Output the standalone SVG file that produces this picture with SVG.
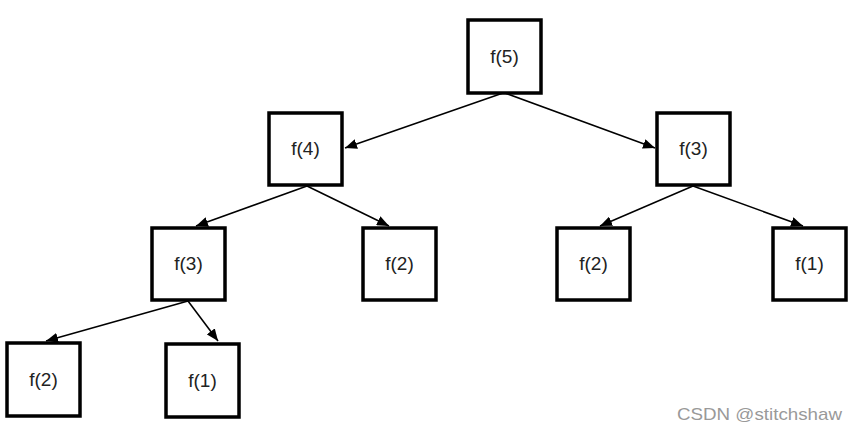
<svg xmlns="http://www.w3.org/2000/svg" width="856" height="430" viewBox="0 0 856 430">
<style>
.box{fill:#fff;stroke:#000;stroke-width:3.5}
.lbl{font-family:"Liberation Sans","Noto Sans",sans-serif;font-size:19px;fill:#222;text-anchor:middle}
.edge{stroke:#000;stroke-width:1.5;fill:none;marker-end:url(#ah)}
.wm{font-family:"Liberation Sans",Arial,sans-serif;font-size:17px;fill:#999;text-anchor:end}
</style>
<defs>
<marker id="ah" viewBox="0 0 12 10" refX="12" refY="5" markerWidth="12" markerHeight="10" markerUnits="userSpaceOnUse" orient="auto">
<path d="M0,0 L12,5 L0,10 z" fill="#000"/>
</marker>
</defs>
<rect width="856" height="430" fill="#fff"/>
<g id="connectors">
<line class="edge" x1="503" y1="93" x2="345" y2="148"/>
<line class="edge" x1="505" y1="93" x2="655" y2="148"/>
<line class="edge" x1="307" y1="186" x2="196" y2="226"/>
<line class="edge" x1="307" y1="186" x2="389" y2="226"/>
<line class="edge" x1="693" y1="186" x2="600" y2="226"/>
<line class="edge" x1="693" y1="186" x2="803" y2="226"/>
<line class="edge" x1="188" y1="301" x2="46" y2="341"/>
<line class="edge" x1="188" y1="301" x2="218" y2="341"/>
</g>
<g id="n5"><rect class="box" x="468" y="20" width="73" height="73"/><text class="lbl" x="504.5" y="63">f(5)</text></g>
<g id="n4"><rect class="box" x="269" y="113" width="73" height="72"/><text class="lbl" x="305.5" y="155">f(4)</text></g>
<g id="n3r"><rect class="box" x="657" y="113" width="73" height="72"/><text class="lbl" x="693.5" y="155">f(3)</text></g>
<g id="n3l"><rect class="box" x="152" y="228" width="73" height="72"/><text class="lbl" x="188.5" y="270">f(3)</text></g>
<g id="n2m"><rect class="box" x="363" y="228" width="73" height="72"/><text class="lbl" x="399.5" y="270">f(2)</text></g>
<g id="n2r"><rect class="box" x="557" y="228" width="73" height="72"/><text class="lbl" x="593.5" y="270">f(2)</text></g>
<g id="n1r"><rect class="box" x="773" y="228" width="73" height="72"/><text class="lbl" x="809.5" y="270">f(1)</text></g>
<g id="n2l"><rect class="box" x="7" y="343" width="73" height="73"/><text class="lbl" x="43.5" y="386">f(2)</text></g>
<g id="n1l"><rect class="box" x="166" y="344" width="73" height="73"/><text class="lbl" x="202.5" y="387">f(1)</text></g>
<text class="wm" x="842" y="420" textLength="165" lengthAdjust="spacingAndGlyphs">CSDN @stitchshaw</text>
</svg>
